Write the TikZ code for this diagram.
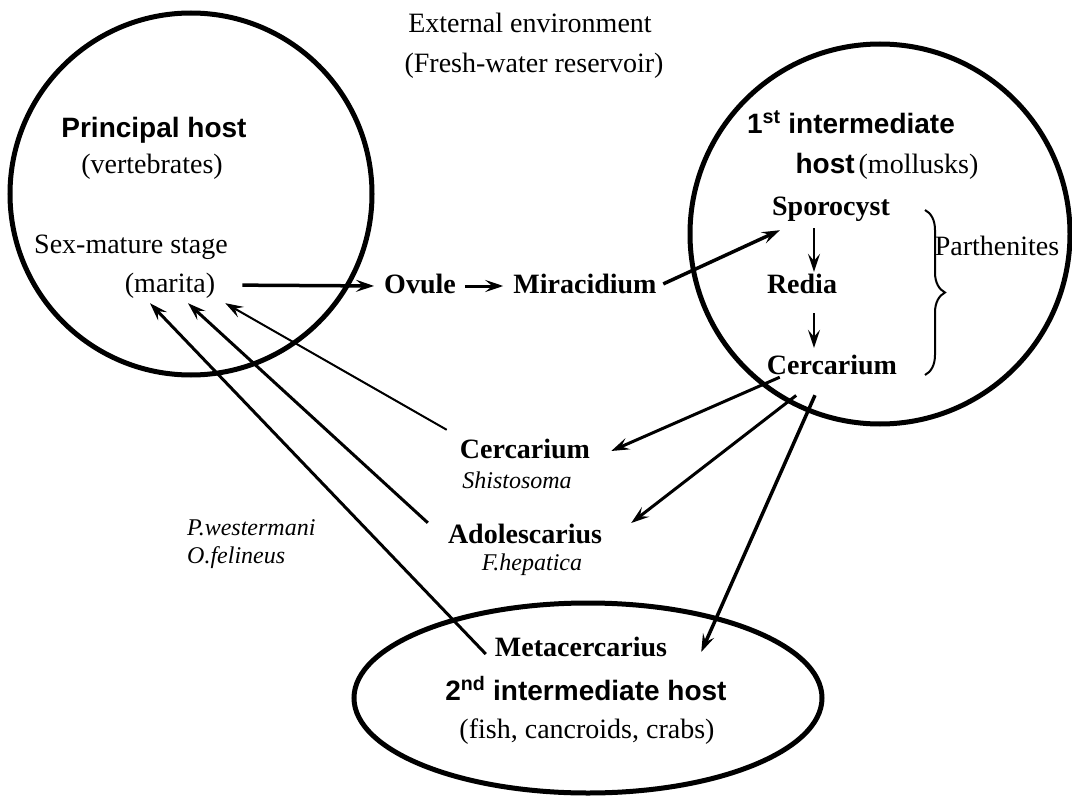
\documentclass[tikz,border=0pt]{standalone}
\usepackage{fontspec}
\setmainfont{Liberation Serif}
\setsansfont{Liberation Sans}
\usepackage{tikz}
\usetikzlibrary{arrows.meta, decorations.pathreplacing}

\begin{document}
\begin{tikzpicture}[
    x=1pt, y=-1pt,
    texto/.style={inner sep=2pt, anchor=base, text height=21pt, text depth=7pt, font=\fontsize{28}{32}\selectfont},
    textoN/.style={texto, font=\fontsize{28}{32}\selectfont\bfseries},
    textoS/.style={texto, font=\fontsize{28}{32}\selectfont\sffamily\bfseries},
    textoI/.style={texto, font=\fontsize{24}{28}\selectfont\itshape},
    borda/.style={line width=5pt},
    seta/.style={-{Stealth[length=18pt, width=12pt, inset=7pt]}, line width=3pt},
    setaF/.style={seta, line width=2pt},
    setaG/.style={seta, line width=3.5pt}
  ]
    \useasboundingbox (0,0) rectangle (1072,800);
    \draw[borda] (191,194) circle[radius=181];
    \draw[borda] (880,234) circle[radius=190];
    \draw[borda] (588,698) ellipse[x radius=234, y radius=95];
    \node[texto] (amb1) at (530,33) {External environment};
    \node[texto] (amb2) at (534,73) {(Fresh-water reservoir)};
    \node[textoS] (hp) at (154,137) {Principal host};
    \node[texto] (vert) at (152,173) {(vertebrates)};
    \node[texto] (sex) at (131,253) {Sex-mature stage};
    \node[texto] (mar) at (170,292) {(marita)};
    \node[textoN] (ovo) at (420,293) {Ovule};
    \node[textoN] (mir) at (585,293) {Miracidium};
    \node[textoS] (hi1) at (851,133) {1\textsuperscript{st} intermediate};
    \node[texto] (hi1b) at (887,173) {{\sffamily\bfseries host}\kern4pt(mollusks)};
    \node[textoN] (spo) at (831,215) {Sporocyst};
    \node[textoN] (red) at (802,293) {Redia};
    \node[textoN] (cer) at (832,374) {Cercarium};
    \node[texto] (par) at (997,255) {Parthenites};
    \node[textoN] (cer2) at (525,458) {Cercarium};
    \node[textoI] (shi) at (517,488) {Shistosoma};
    \node[textoN] (ado) at (525,543) {Adolescarius};
    \node[textoI] (fhe) at (532,570) {F.hepatica};
    \node[textoI, anchor=base west] (pwe) at (185,535) {P.westermani};
    \node[textoI, anchor=base west] (ofe) at (185,563) {O.felineus};
    \node[textoN] (met) at (581,656) {Metacercarius};
    \node[textoS] (hi2) at (586,700) {2\textsuperscript{nd} intermediate host};
    \node[texto] (pei) at (587,738) {(fish, cancroids, crabs)};
    \draw[decorate, decoration={brace, amplitude=20pt}, line width=2pt] (925,210) -- (925,375);
    \draw[setaG, shorten <=25pt, shorten >=8pt] (mar.east) -- (ovo.west);
    \draw[seta, shorten <=7pt, shorten >=8pt] (ovo) -- (mir);
    \draw[setaG, shorten <=5pt] (mir.east) -- ([xshift=10pt,yshift=-6pt]spo.south west);
    \draw[seta, line width=2pt, shorten <=4pt, shorten >=-2pt] ([xshift=-17pt]spo.south) -- ([xshift=12pt]red.north);
    \draw[seta, line width=2pt, shorten <=11pt, shorten >=3pt] ([xshift=12pt]red.south) -- ([xshift=-18pt]cer.north);
    \draw[seta] ([xshift=15pt,yshift=6pt]cer.south west) -- ([xshift=19pt]cer2.east);
    \draw[seta, shorten <=20pt] ([xshift=-20pt]cer.south) -- ([xshift=27pt,yshift=13pt]ado.east);
    \draw[setaG] ([xshift=-17pt,yshift=-12pt]cer.south) -- ([xshift=32pt,yshift=-3pt]met.east);
    \draw[setaF] ([xshift=-11pt,yshift=5pt]cer2.north west) -- ([xshift=8pt,yshift=-2pt]mar.south east);
    \draw[seta] ([xshift=-18pt,yshift=-3pt]ado.north west) -- ([xshift=18pt,yshift=-2pt]mar.south);
    \draw[seta] ([xshift=-7pt,yshift=-5pt]met.west) -- ([xshift=-20pt,yshift=-2pt]mar.south);
  \end{tikzpicture}
\end{document}
